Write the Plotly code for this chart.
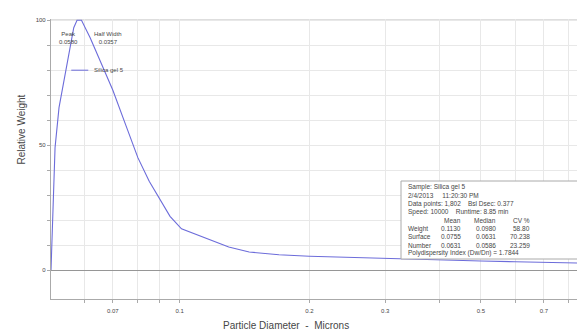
import math
import plotly.graph_objects as go

# Particle size distribution (Relative Weight vs Particle Diameter, microns)
diameter = [0.0503, 0.0508, 0.0514, 0.0525, 0.0539, 0.0555, 0.0568, 0.0578, 0.0592,
            0.0620, 0.0650, 0.0675, 0.0700, 0.0750, 0.0800, 0.0850, 0.0900,
            0.0950, 0.1010, 0.1100, 0.1200, 0.1300, 0.1450, 0.170,
            0.200, 0.250, 0.300, 0.400, 0.500, 0.600, 0.700, 0.800, 0.910]
weight = [0.0, 26.0, 49.0, 65.0, 76.0, 88.0, 97.0, 100.0, 100.0,
          93.0, 85.0, 78.0, 72.0, 58.0, 45.0, 35.5, 28.0,
          21.5, 16.5, 14.0, 11.5, 9.2, 7.2, 6.1,
          5.5, 5.0, 4.5, 4.0, 3.6, 3.3, 3.0, 2.8, 2.7]

x_tickvals = [0.06, 0.07, 0.08, 0.09, 0.1, 0.2, 0.3, 0.4, 0.5, 0.6, 0.7, 0.8, 0.9]
x_ticktext = ["", "0.07", "", "", "0.1", "0.2", "0.3", "", "0.5", "", "0.7", "", ""]
y_tickvals = [0, 10, 20, 30, 40, 50, 60, 70, 80, 90, 100]
y_ticktext = ["0", "", "", "", "", "50", "", "", "", "", "100"]

series_name = "Silica gel 5"
peak_label = ["Peak", "0.0580"]
width_label = ["Half Width", "0.0357"]

info_lines = ["Sample: Silica gel 5",
              "2/4/2013     11:20:30 PM",
              "Data points: 1,802    Bsl Dsec: 0.377",
              "Speed: 10000    Runtime: 8.85 min"]
stat_header = ["Mean", "Median", "CV %"]
stat_rows = ["Weight", "Surface", "Number"]
stat_mean = ["0.1130", "0.0755", "0.0631"]
stat_median = ["0.0980", "0.0631", "0.0586"]
stat_cv = ["58.80", "70.238", "23.259"]
pdi_line = "Polydispersity Index (Dw/Dn) = 1.7844"

W, H = 585, 331
L, R, T, B = 43, 0, 11, 40
pw, ph = W - L - R, H - T - B
XLO, XHI = math.log10(0.0503), math.log10(0.910)
YLO, YHI = -11.6, 100.5


def px(x):
    return (x - L) / pw


def py(y):
    return (H - B - y) / ph


def xpix(v):
    return L + pw * (math.log10(v) - XLO) / (XHI - XLO)


FONT = "Liberation Sans"
LINE = "rgb(108,108,218)"
TXT = "rgb(70,70,70)"
GRID = "rgb(232,232,232)"
AX = "rgb(170,170,170)"

fig = go.Figure()
fig.add_trace(go.Scatter(x=diameter, y=weight, mode="lines",
                         line=dict(color=LINE, width=1.1), name=series_name,
                         showlegend=False, hoverinfo="skip"))

fig.update_layout(
    width=W, height=H,
    margin=dict(l=L, r=R, t=T, b=B, pad=0),
    paper_bgcolor="white", plot_bgcolor="white",
    font=dict(family=FONT, size=6, color=TXT),
    xaxis=dict(type="log", range=[XLO, XHI],
               tickvals=x_tickvals, ticktext=x_ticktext,
               showgrid=True, gridcolor=GRID, gridwidth=1,
               showline=True, linecolor=AX, linewidth=1.2,
               ticks="outside", ticklen=3, tickcolor=AX, ticklabelstandoff=3,
               tickfont=dict(size=6, color=TXT), zeroline=False),
    yaxis=dict(range=[YLO, YHI], tickvals=y_tickvals, ticktext=y_ticktext,
               showgrid=True, gridcolor=GRID, gridwidth=1,
               showline=True, linecolor=AX, linewidth=1.2,
               ticks="outside", ticklen=3, tickcolor=AX,
               tickfont=dict(size=6, color=TXT),
               zeroline=True, zerolinecolor="rgb(150,150,150)", zerolinewidth=1.2),
)

# top reference line at 100
fig.add_shape(type="line", xref="paper", yref="y", x0=0, x1=1, y0=100, y1=100,
              line=dict(color="rgb(190,190,190)", width=1.5), layer="below")

ann = []
ann.append(dict(x=px(5), y=py(122), xref="paper", yref="paper", text="Relative Weight",
                textangle=-90, showarrow=False, font=dict(size=10, color=TXT)))
ann.append(dict(x=px(278), y=py(317), xref="paper", yref="paper",
                text="Particle Diameter  -  Microns", showarrow=False,
                font=dict(size=10, color=TXT)))

peak_x = xpix(0.0585)
ann.append(dict(x=px(peak_x - 22), y=92.8, xref="paper", yref="y",
                text="<br>".join(peak_label), showarrow=False, align="center",
                font=dict(size=6, color=TXT)))
ann.append(dict(x=px(peak_x + 13), y=92.8, xref="paper", yref="y",
                text="<br>".join(width_label), showarrow=False, align="center",
                font=dict(size=6, color=TXT)))
ann.append(dict(x=px(peak_x + 13), y=80, xref="paper", yref="y", xanchor="left",
                text=series_name, showarrow=False, font=dict(size=6, color=TXT)))
fig.add_shape(type="line", xref="paper", yref="y", x0=px(peak_x - 8), x1=px(peak_x + 9),
              y0=80, y1=80, line=dict(color=LINE, width=1))

# info box
bx0, bx1, by0, by1 = 393, 580, 173, 251
fig.add_shape(type="rect", xref="paper", yref="paper", x0=px(bx0), x1=px(bx1),
              y0=py(by1), y1=py(by0), line=dict(color=AX, width=1),
              fillcolor="white", layer="above")
lh = 8.3
y0 = 179
FS = 6.5
for i, t in enumerate(info_lines):
    ann.append(dict(x=px(bx0 + 5), y=py(y0 + i * lh), xref="paper", yref="paper",
                    xanchor="left", text=t, showarrow=False, font=dict(size=FS, color=TXT)))
cols = [bx0 + 62, bx0 + 97, bx0 + 131]
yh = y0 + 4 * lh
for c, t in zip(cols, stat_header):
    ann.append(dict(x=px(c), y=py(yh), xref="paper", yref="paper", text=t,
                    showarrow=False, font=dict(size=FS, color=TXT)))
for r in range(3):
    yy = y0 + (5 + r) * lh
    ann.append(dict(x=px(bx0 + 5), y=py(yy), xref="paper", yref="paper", xanchor="left",
                    text=stat_rows[r], showarrow=False, font=dict(size=FS, color=TXT)))
    for c, vals in zip(cols, [stat_mean, stat_median, stat_cv]):
        ann.append(dict(x=px(c), y=py(yy), xref="paper", yref="paper", text=vals[r],
                        showarrow=False, font=dict(size=FS, color=TXT)))
ann.append(dict(x=px(bx0 + 5), y=py(y0 + 8 * lh), xref="paper", yref="paper", xanchor="left",
                text=pdi_line, showarrow=False, font=dict(size=FS, color=TXT)))
for a in ann:
    a.setdefault("yanchor", "middle")
fig.update_layout(annotations=ann)

fig.write_html("out.html")
